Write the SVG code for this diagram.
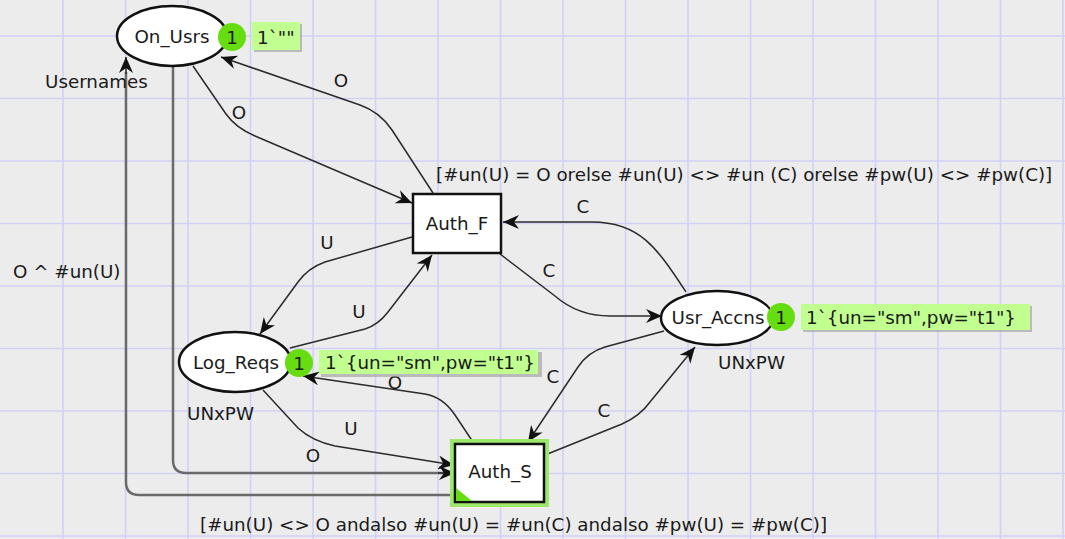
<svg xmlns="http://www.w3.org/2000/svg" width="1065" height="539" viewBox="0 0 1065 539">
<defs>
<style>
text{font-family:"DejaVu Sans","Liberation Sans",sans-serif;font-size:18.3px;fill:#1a1a1a}
.grid{stroke:#d1d1f7;stroke-width:1.6}
.place{fill:#fff;stroke:#111;stroke-width:2.5}
.trans{fill:#fff;stroke:#111;stroke-width:2.5}
.arc{fill:none;stroke:#2b2b2b;stroke-width:1.5;marker-end:url(#ah)}
.arcg{fill:none;stroke:#6a6a6a;stroke-width:2.5}
.tok{fill:#66dd11}
.box{fill:#c0ff90}
.shadow{fill:#9a9a9a;opacity:0.6}
.mid{text-anchor:middle}
</style>
<marker id="ah" viewBox="0 0 16 14" refX="16" refY="7" markerWidth="16" markerHeight="14" markerUnits="userSpaceOnUse" orient="auto">
<path d="M0,0 L16,7 L0,14 L5,7 z" fill="#111"/>
</marker>
</defs>
<rect width="1065" height="539" fill="#ececec"/>
<g id="grid">
<path class="grid" d="M63,0V539M125.5,0V539M188,0V539M250.5,0V539M313,0V539M375.5,0V539M438,0V539M500.5,0V539M563,0V539M625.5,0V539M688,0V539M750.5,0V539M813,0V539M875.5,0V539M938,0V539M1000.5,0V539M1063,0V539"/>
<path class="grid" d="M0,36H1065M0,98.5H1065M0,161H1065M0,223.5H1065M0,286H1065M0,348.5H1065M0,411H1065M0,473.5H1065M0,536H1065"/>
</g>
<g id="connectors">
<path class="arc" d="M686,292 C657,248 640,222 592,222 L503,222"/>
<text class="mid" x="583" y="213">C</text>
<path class="arc" d="M500,254 L555,296 Q578,316 610,316 L662,316"/>
<text class="mid" x="549" y="277">C</text>
<path class="arc" d="M193,66 L226,114 Q236,128 255,136 L412,203"/>
<text class="mid" x="239" y="119">O</text>
<path class="arc" d="M433,193 L392,130 Q380,112 360,105 L221,57"/>
<text class="mid" x="341" y="87">O</text>
<path class="arc" d="M412,237 L325,262 Q308,268 298,282 L260,334"/>
<text class="mid" x="327" y="249">U</text>
<path class="arc" d="M290,348 L365,329 Q378,325 388,312 L432,255"/>
<text class="mid" x="359" y="318">U</text>
<path class="arc" d="M263,390 L298,428 Q312,441 335,446 L454,465"/>
<text class="mid" x="351" y="435">U</text>
<path class="arcg" d="M173,67 L173,460 Q173,473 186,473 L444,473"/>
<path class="arc" d="M438,473 L455,473"/>
<text class="mid" x="313" y="462">O</text>
<path class="arcg" d="M455,495 L139,495 Q126,495 126,482 L126,72"/>
<path class="arc" d="M126,74 L126,57"/>
<text x="13" y="278">O ^ #un(U)</text>
<path class="arc" d="M473,442 L455,415 Q443,397 425,394 L303,376"/>
<text class="mid" x="395" y="389">O</text>
<path class="arc" d="M664,331 L605,347 Q588,352 578,367 L528,442"/>
<text class="mid" x="553" y="383">C</text>
<path class="arc" d="M545,455 L622,424 Q640,416 650,402 L695,347"/>
<text class="mid" x="604" y="417">C</text>
</g>
<g id="On_Usrs">
<ellipse class="place" cx="172" cy="36" rx="55" ry="30"/>
<text class="mid" x="172" y="43">On_Usrs</text>
<text x="45" y="88">Usernames</text>
<circle class="tok" cx="232" cy="37" r="14"/>
<text class="mid" x="232" y="44">1</text>
<rect class="shadow" x="254" y="24" width="48" height="28"/>
<rect class="box" x="252" y="22" width="48" height="28"/>
<text x="257" y="44">1`""</text>
</g>
<g id="Auth_F">
<rect class="trans" x="413" y="194" width="88" height="59"/>
<text class="mid" x="457" y="230">Auth_F</text>
<text x="436" y="181">[#un(U) = O orelse #un(U) &lt;&gt; #un (C) orelse #pw(U) &lt;&gt; #pw(C)]</text>
</g>
<g id="Usr_Accns">
<ellipse class="place" cx="717" cy="318" rx="56" ry="27"/>
<text class="mid" x="718" y="324">Usr_Accns</text>
<text x="718" y="369">UNxPW</text>
<circle class="tok" cx="781" cy="317" r="14"/>
<text class="mid" x="781" y="324">1</text>
<rect class="shadow" x="803" y="306" width="229" height="26"/>
<rect class="box" x="801" y="304" width="229" height="26"/>
<text x="806" y="324">1`{un="sm",pw="t1"}</text>
</g>
<g id="Log_Reqs">
<ellipse class="place" cx="235" cy="362" rx="56" ry="30"/>
<text class="mid" x="236" y="369">Log_Reqs</text>
<text x="187" y="420">UNxPW</text>
<circle class="tok" cx="299" cy="363" r="14"/>
<text class="mid" x="299" y="370">1</text>
<rect class="shadow" x="321" y="352" width="221" height="25"/>
<rect class="box" x="319" y="350" width="219" height="24"/>
<text x="325" y="369">1`{un="sm",pw="t1"}</text>
</g>
<g id="Auth_S">
<rect x="452" y="441" width="95" height="64" fill="none" stroke="#9be86b" stroke-width="4"/>
<rect class="trans" x="455" y="444" width="89" height="58"/>
<path d="M456,488 L456,501 L472,501 z" fill="#66dd11"/>
<text class="mid" x="500" y="478">Auth_S</text>
<text x="200" y="531">[#un(U) &lt;&gt; O andalso #un(U) = #un(C) andalso #pw(U) = #pw(C)]</text>
</g>
</svg>
